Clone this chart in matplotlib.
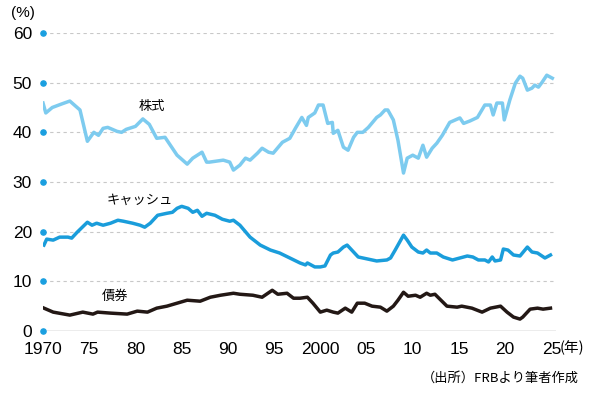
"""
Household asset mix (stocks / cash / bonds), 1970-2025
"""

import matplotlib
matplotlib.use('Agg')
import matplotlib.pyplot as plt

plt.rcParams['font.family'] = ['Liberation Sans', 'Noto Sans CJK JP', 'DejaVu Sans']

# 株式 (stocks)
stock_years = [1970.0, 1970.3, 1971.0, 1972.0, 1972.9, 1974.0, 1974.8, 1975.5, 1976.0,
               1976.5, 1977.0, 1978.0, 1978.5, 1979.0, 1980.0, 1980.8, 1981.5, 1982.3,
               1983.2, 1984.5, 1985.6, 1986.2, 1987.2, 1987.7, 1988.0, 1989.5, 1990.2,
               1990.6, 1991.3, 1991.9, 1992.4, 1993.2, 1993.7, 1994.4, 1994.9, 1995.9,
               1996.7, 1997.3, 1998.0, 1998.5, 1998.7, 1999.4, 1999.8, 2000.3, 2000.8,
               2001.3, 2001.4, 2001.9, 2002.5, 2003.0, 2003.6, 2004.0, 2004.6, 2005.2,
               2006.1, 2006.5, 2007.0, 2007.3, 2007.9, 2008.4, 2009.0, 2009.4, 2010.0,
               2010.6, 2011.1, 2011.5, 2012.1, 2012.6, 2013.2, 2014.0, 2015.1, 2015.5,
               2016.2, 2017.0, 2017.8, 2018.4, 2018.7, 2019.1, 2019.7, 2019.9, 2020.5,
               2021.1, 2021.6, 2021.9, 2022.4, 2022.9, 2023.2, 2023.6, 2024.0, 2024.5,
               2025.1]
stock_vals = [45.9, 43.9, 45.0, 45.7, 46.3, 44.5, 38.2, 40.0, 39.4,
              40.8, 41.0, 40.2, 40.0, 40.6, 41.2, 42.7, 41.6, 38.8,
              39.0, 35.4, 33.6, 34.8, 36.0, 34.0, 34.0, 34.4, 34.0,
              32.4, 33.4, 34.8, 34.4, 35.8, 36.8, 36.0, 35.8, 38.0,
              38.8, 40.8, 43.0, 41.4, 43.0, 43.9, 45.5, 45.5, 41.8,
              42.0, 39.8, 40.4, 37.0, 36.4, 39.0, 40.0, 40.0, 41.0,
              43.0, 43.5, 44.5, 44.5, 42.5, 38.4, 31.8, 34.8, 35.4,
              34.8, 37.4, 35.0, 36.8, 37.8, 39.4, 42.0, 42.9, 41.8,
              42.3, 43.0, 45.5, 45.5, 43.5, 45.9, 45.9, 42.5, 46.5,
              49.9, 51.3, 50.9, 48.5, 48.9, 49.5, 49.1, 50.1, 51.5,
              50.9]

# キャッシュ (cash)
cash_years = [1970.1, 1970.4, 1971.1, 1971.8, 1972.7, 1973.1, 1973.7, 1974.8, 1975.3,
              1975.8, 1976.5, 1977.3, 1978.1, 1978.7, 1979.7, 1980.5, 1981.0, 1981.6,
              1982.4, 1983.4, 1984.0, 1984.5, 1985.0, 1985.7, 1986.2, 1986.7, 1987.2,
              1987.7, 1988.6, 1989.4, 1990.2, 1990.6, 1991.3, 1992.4, 1993.5, 1994.6,
              1995.6, 1996.7, 1997.8, 1998.4, 1998.6, 1999.4, 2000.0, 2000.5, 2001.1,
              2001.4, 2001.9, 2002.5, 2002.9, 2003.4, 2004.1, 2005.1, 2006.1, 2007.2,
              2007.6, 2008.1, 2008.4, 2009.0, 2009.4, 2009.9, 2010.6, 2011.1, 2011.5,
              2011.9, 2012.6, 2013.3, 2014.3, 2015.1, 2015.9, 2016.5, 2017.1, 2017.8,
              2018.2, 2018.6, 2018.9, 2019.5, 2019.8, 2020.3, 2020.9, 2021.6, 2022.4,
              2022.9, 2023.5, 2024.3, 2024.9]
cash_vals = [17.3, 18.5, 18.3, 18.9, 18.9, 18.7, 19.9, 21.9, 21.3,
             21.7, 21.3, 21.7, 22.3, 22.1, 21.7, 21.3, 20.9, 21.7,
             23.3, 23.7, 23.9, 24.7, 25.1, 24.7, 23.9, 24.3, 23.1,
             23.7, 23.3, 22.5, 22.1, 22.3, 21.3, 18.9, 17.3, 16.3,
             15.7, 14.7, 13.7, 13.3, 13.7, 12.9, 12.9, 13.1, 15.3,
             15.7, 15.9, 16.9, 17.3, 16.3, 14.9, 14.5, 14.1, 14.3,
             14.7, 16.3, 17.3, 19.3, 18.3, 16.9, 15.9, 15.7, 16.3,
             15.7, 15.7, 14.9, 14.3, 14.7, 15.1, 14.9, 14.3, 14.3,
             13.9, 14.9, 14.1, 14.3, 16.5, 16.3, 15.3, 15.1, 16.9,
             15.9, 15.7, 14.7, 15.3]

# 債券 (bonds)
bond_years = [1970.1, 1971.1, 1972.9, 1974.3, 1975.4, 1975.9, 1977.3, 1979.1, 1980.2,
              1981.3, 1982.3, 1983.4, 1984.5, 1985.6, 1987.0, 1988.1, 1989.2, 1990.6,
              1991.3, 1992.7, 1993.7, 1994.8, 1995.4, 1996.4, 1997.1, 1997.8, 1998.6,
              1999.2, 2000.0, 2000.7, 2001.4, 2001.9, 2002.7, 2003.4, 2004.0, 2004.8,
              2005.6, 2006.5, 2007.2, 2007.9, 2008.4, 2009.0, 2009.5, 2010.3, 2010.8,
              2011.5, 2011.9, 2012.4, 2013.7, 2014.8, 2015.3, 2016.4, 2017.5, 2018.4,
              2019.5, 2020.2, 2020.9, 2021.6, 2021.9, 2022.7, 2023.5, 2024.1, 2024.9]
bond_vals = [4.6, 3.8, 3.2, 3.8, 3.4, 3.8, 3.6, 3.4, 4.0,
             3.8, 4.6, 5.0, 5.6, 6.2, 6.0, 6.8, 7.2, 7.6,
             7.4, 7.2, 6.8, 8.2, 7.4, 7.6, 6.6, 6.6, 6.8,
             5.6, 3.8, 4.2, 3.8, 3.6, 4.6, 3.8, 5.6, 5.6,
             5.0, 4.8, 4.0, 5.0, 6.2, 7.8, 7.0, 7.2, 6.8,
             7.6, 7.2, 7.4, 5.0, 4.8, 5.0, 4.6, 3.8, 4.6,
             5.0, 3.8, 2.8, 2.4, 2.8, 4.4, 4.6, 4.4, 4.6]

y_ticks = [0, 10, 20, 30, 40, 50, 60]
x_ticks = [1970, 1975, 1980, 1985, 1990, 1995, 2000, 2005, 2010, 2015, 2020, 2025]
x_labels = ['1970', '75', '80', '85', '90', '95', '2000', '05', '10', '15', '20', '25']

STOCK_C = '#7dcbef'
CASH_C = '#1a9ddb'
BOND_C = '#231815'
DOT_C = '#1a9fe0'
JP = ['Noto Sans CJK JP', 'DejaVu Sans']

fig = plt.figure(figsize=(6, 4), dpi=100)
ax = fig.add_axes([0.0717, 0.1725, 0.855, 0.745])
ax.set_xlim(1970, 2025.5)
ax.set_ylim(0, 60)

# grid
for v in y_ticks[1:]:
    ax.axhline(v, color='#c8c8c8', lw=0.8, ls=(0, (3, 3)), zorder=1)
ax.axhline(0, color='#a0a0a0', lw=1.0, zorder=1)

ax.plot(stock_years, stock_vals, color=STOCK_C, lw=2.5, solid_joinstyle='round', zorder=3)
ax.plot(cash_years, cash_vals, color=CASH_C, lw=2.5, solid_joinstyle='round', zorder=3)
ax.plot(bond_years, bond_vals, color=BOND_C, lw=2.5, solid_joinstyle='round', zorder=3)

# blue dots on the y axis
ax.scatter([1970] * len(y_ticks), y_ticks, s=14, color=DOT_C, zorder=4, clip_on=False)

for s in ax.spines.values():
    s.set_visible(False)
ax.tick_params(length=0)
ax.set_yticks(y_ticks)
ax.set_yticklabels([str(v) for v in y_ticks], fontsize=12.5)
ax.tick_params(axis='y', pad=8)
ax.set_xticks(x_ticks)
ax.set_xticklabels(x_labels, fontsize=12.5)
ax.tick_params(axis='x', pad=8)

ax.text(-0.062, 1.045, '(%)', transform=ax.transAxes, fontsize=11, ha='left', va='bottom')
ax.text(2025.9, -2.0, '(年)', fontsize=10.5, ha='left', va='top', family=JP)

ax.text(1981.8, 45.3, '株式', fontsize=9.5, ha='center', va='center', family=JP)
ax.text(1980.5, 26.3, 'キャッシュ', fontsize=9.5, ha='center', va='center', family=JP)
ax.text(1977.8, 6.9, '債券', fontsize=9.5, ha='center', va='center', family=JP)

fig.text(0.965, 0.055, '（出所）FRBより筆者作成', fontsize=9.5, ha='right', va='center', family=JP)

fig.savefig('out.png', dpi=100, facecolor='white')
